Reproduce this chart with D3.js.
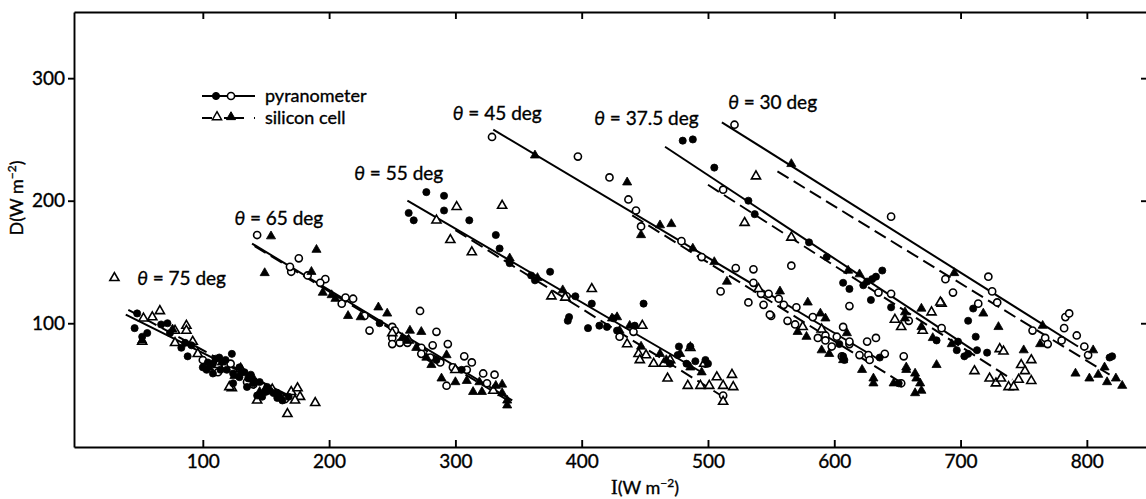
<!DOCTYPE html>
<html>
<head>
<meta charset="utf-8">
<script src="https://cdn.jsdelivr.net/npm/d3@7"></script>
<style>
  body { margin: 0; background: #fff; }
  text { font-family: Lato, "Open Sans", sans-serif; fill: #000; stroke: #000; stroke-width: 0.35; }
</style>
</head>
<body>
<div class="canvas"></div>
<script>
// ---------- data (I and D in W m^-2) ----------
const xTicks = [100, 200, 300, 400, 500, 600, 700, 800];
const yTicks = [100, 200, 300];
const angles = ['75', '65', '55', '45', '37.5', '30'];
// where each angle label sits (data units, left edge / middle of the text)
const labelAnchor = [[48, 137], [125, 186], [220, 222], [298, 271], [410, 267], [516, 280]];

// regression lines: solid = pyranometer, dashed = silicon cell
const pyrLines = [
  [[39, 107], [170, 40]],
  [[139, 165], [345, 37]],
  [[262, 200], [495, 60]],
  [[330, 258], [636, 70]],
  [[466, 244], [713, 76]],
  [[511, 264], [793, 81]]
];
const siLines = [
  [[41, 111], [168, 40]],
  [[141, 163], [340, 38]],
  [[300, 176], [512, 40]],
  [[440, 188], [657, 49]],
  [[500, 213], [741, 54]],
  [[555, 224], [818, 58]]
];

// pyranometer, filled circles
const filledCircles = [
  // 75 deg
  [46, 96], [48, 108], [56, 92], [52, 89], [67, 99], [72, 100], [74, 92], [86, 84], [88, 73], [83, 80],
  [91, 82], [123, 75], [100, 64], [108, 67], [113, 72], [103, 62], [119, 62], [124, 59], [129, 56], [136, 55],
  [140, 51], [145, 52], [151, 48], [153, 45], [143, 41], [147, 40], [159, 39], [163, 37], [156, 43], [135, 48],
  [124, 51], [114, 62], [108, 59], [129, 64], [104, 68], [118, 70], [133, 60], [110, 71], [138, 58], [150, 44],
  [160, 42], [168, 40],
  // 65 deg
  [285, 70], [305, 62], [240, 100],
  // 55 deg
  [277, 207], [291, 204], [291, 192], [263, 190], [267, 184], [311, 184], [332, 172], [335, 161], [343, 149], [360, 139],
  [363, 135], [375, 142], [395, 122], [408, 116], [390, 105], [389, 102], [405, 96], [414, 98], [425, 104], [420, 97],
  [428, 94], [442, 98], [449, 116], [477, 81], [486, 81], [490, 69], [498, 70], [500, 67], [476, 74], [483, 67], [470, 67],
  // 45 deg
  [604, 83], [607, 73], [636, 72], [651, 51], [608, 70],
  // 37.5 deg
  [480, 249], [488, 250], [505, 227], [532, 200], [537, 189], [580, 166], [594, 154], [607, 133], [612, 128], [638, 143],
  [633, 138], [630, 136], [626, 134], [623, 131], [629, 119], [645, 113], [681, 86], [698, 85], [697, 78], [703, 73],
  [706, 75], [713, 78], [721, 76], [706, 102], [712, 89], [710, 112],
  // 30 deg
  [818, 72], [820, 73]
];

// pyranometer, open circles
const openCircles = [
  // 75 deg
  [118, 65], [128, 58], [140, 50], [150, 45], [160, 40], [100, 70], [165, 38], [135, 52], [112, 60], [122, 67],
  // 65 deg
  [143, 172], [176, 153], [170, 142], [169, 146], [183, 139], [197, 136], [193, 133], [210, 116], [219, 120], [213, 121],
  [228, 106], [232, 94], [250, 97], [252, 94], [250, 88], [250, 83], [256, 84], [262, 84], [272, 110], [273, 80],
  [273, 75], [285, 93], [282, 82], [294, 83], [307, 73], [313, 68], [309, 62], [322, 59], [331, 58], [325, 51],
  [293, 49], [298, 64], [288, 68], [280, 72],
  // 55 deg
  [430, 89], [512, 41], [498, 67], [388, 122], [441, 93],
  // 45 deg
  [329, 252], [397, 236], [422, 219], [437, 201], [443, 192], [447, 179], [479, 167], [495, 154], [522, 145], [536, 144],
  [510, 126], [536, 133], [532, 117], [544, 115], [550, 106], [542, 124], [548, 124], [556, 120], [560, 115], [563, 102],
  [570, 113], [583, 105], [587, 88], [593, 90], [607, 97], [602, 89], [612, 83], [549, 107], [569, 99], [593, 86],
  [598, 81], [606, 73], [612, 85], [620, 74], [626, 85], [633, 88], [627, 74], [628, 70], [640, 75], [655, 73], [653, 51],
  // 37.5 deg
  [512, 209], [566, 147], [635, 125], [645, 124], [612, 114], [659, 102], [685, 96], [714, 116],
  // 30 deg
  [521, 262], [645, 187], [688, 136], [694, 125], [722, 138], [725, 126], [729, 117], [757, 94], [767, 88], [769, 83],
  [780, 86], [783, 105], [786, 108], [782, 96], [792, 90], [798, 81], [801, 74]
];

// silicon cell, open triangles
const openTriangles = [
  // 75 deg
  [30, 137], [66, 110], [60, 105], [53, 104], [87, 98], [87, 94], [78, 94], [92, 85], [78, 84], [52, 85],
  [96, 75], [123, 47], [130, 63], [143, 37], [170, 44], [175, 47], [177, 40], [173, 37], [189, 35], [167, 26],
  [121, 48], [112, 66], [155, 46],
  // 65 deg
  [250, 92], [300, 62], [330, 45], [263, 86],
  // 55 deg
  [301, 195], [337, 196], [285, 184], [296, 168], [313, 158], [376, 122], [387, 121], [408, 128], [436, 83], [448, 98],
  [445, 75], [451, 74], [446, 70], [457, 67], [465, 67], [468, 55], [484, 49], [494, 49], [501, 49], [507, 56],
  [512, 49], [519, 58], [520, 48], [512, 36], [486, 80], [497, 67], [470, 70],
  // 45 deg
  [540, 128], [575, 97], [590, 95],
  // 37.5 deg
  [538, 220], [529, 182], [566, 170], [648, 103], [653, 97], [677, 109], [685, 116], [670, 94], [684, 117], [731, 79],
  [734, 77], [711, 61], [723, 55], [728, 51], [732, 55], [738, 48], [742, 48], [746, 54], [748, 66], [751, 61],
  [756, 70], [756, 53]
];

// silicon cell, filled triangles
const filledTriangles = [
  // 75 deg
  [130, 60], [140, 55], [150, 47], [115, 68], [160, 42], [125, 57], [105, 64], [52, 86], [76, 95], [145, 44],
  // 65 deg
  [154, 171], [190, 160], [149, 141], [186, 142], [195, 125], [202, 123], [215, 106], [239, 113], [246, 108], [264, 94],
  [273, 93], [269, 80], [277, 72], [281, 66], [293, 74], [289, 55], [300, 52], [309, 53], [314, 44], [319, 52],
  [332, 49], [337, 50], [337, 43], [341, 37], [341, 33], [321, 44], [205, 120], [225, 105], [258, 88], [262, 86],
  // 55 deg
  [343, 153], [424, 104], [428, 105], [438, 98], [430, 94], [478, 75], [486, 64], [495, 60], [462, 75], [467, 70],
  [447, 81], [365, 137], [385, 127],
  // 45 deg
  [363, 237], [436, 215], [447, 172], [462, 180], [471, 181], [488, 161], [505, 150], [515, 134], [557, 126], [579, 117],
  [589, 108], [593, 104], [571, 93], [578, 89], [590, 78], [596, 75], [610, 92], [607, 70], [622, 62], [631, 55],
  [631, 51], [647, 51], [657, 64], [657, 62], [664, 59], [665, 55], [668, 51], [669, 45], [664, 43],
  // 37.5 deg
  [611, 143], [656, 109], [656, 104], [669, 112], [669, 97], [678, 88], [693, 83], [730, 97], [718, 108], [750, 78],
  [681, 66], [620, 140],
  // 30 deg
  [566, 230], [695, 141], [765, 98], [763, 83], [791, 59], [802, 55], [809, 58], [814, 64], [816, 52], [823, 55],
  [828, 49], [805, 78]
];

// ---------- svg and scales ----------
const width = 1146;
const height = 499;

const svg = d3.select('.canvas')
  .append('svg')
    .attr('width', width)
    .attr('height', height);

const x = d3.scaleLinear()
  .domain([-2, 850])
  .range([74, 1150]);

const y = d3.scaleLinear()
  .domain([-1, 354])
  .range([447, 12]);

// ---------- frame and axes ----------
const axisStyle = g => {
  g.selectAll('path, line').attr('stroke', '#000').attr('stroke-width', 1.9);
  g.selectAll('text').attr('font-size', 19).attr('fill', '#000')
    .attr('font-family', 'Lato, "Open Sans", sans-serif');
};

svg.append('g')
  .attr('transform', `translate(0, ${y(-1)})`)
  .call(d3.axisBottom(x).tickValues(xTicks).tickSize(-7).tickSizeOuter(0).tickPadding(8))
  .call(axisStyle);

svg.append('g')
  .attr('transform', `translate(0, ${y(354)})`)
  .call(d3.axisTop(x).tickValues(xTicks).tickSize(-7).tickSizeOuter(0).tickFormat(''))
  .call(axisStyle);

svg.append('g')
  .attr('transform', `translate(${x(-2)}, 0)`)
  .call(d3.axisLeft(y).tickValues(yTicks).tickSize(6).tickSizeOuter(0).tickPadding(3))
  .call(axisStyle);

svg.append('g')
  .attr('transform', `translate(${x(850) - 2}, 0)`)
  .call(d3.axisRight(y).tickValues(yTicks).tickSize(-7).tickSizeOuter(0).tickFormat(''))
  .call(axisStyle);

// axis titles
svg.append('text')
  .attr('transform', `translate(23, 198) rotate(-90)`)
  .attr('text-anchor', 'middle')
  .attr('font-size', 18)
  .html('D(W m<tspan baseline-shift="super" font-size="12">−2</tspan>)');

svg.append('text')
  .attr('x', 645)
  .attr('y', 494)
  .attr('text-anchor', 'middle')
  .attr('font-size', 18)
  .html('<tspan font-family="Liberation Serif" font-size="20">I</tspan>(W m<tspan baseline-shift="super" font-size="12">−2</tspan>)');

// ---------- regression lines ----------
const graph = svg.append('g');

graph.selectAll('line.pyr')
  .data(pyrLines)
  .enter().append('line')
    .attr('class', 'pyr')
    .attr('x1', d => x(d[0][0])).attr('y1', d => y(d[0][1]))
    .attr('x2', d => x(d[1][0])).attr('y2', d => y(d[1][1]))
    .attr('stroke', '#000')
    .attr('stroke-width', 2);

graph.selectAll('line.si')
  .data(siLines)
  .enter().append('line')
    .attr('class', 'si')
    .attr('x1', d => x(d[0][0])).attr('y1', d => y(d[0][1]))
    .attr('x2', d => x(d[1][0])).attr('y2', d => y(d[1][1]))
    .attr('stroke', '#000')
    .attr('stroke-width', 2)
    .attr('stroke-dasharray', '13,6');

// ---------- point markers ----------
const circle = d3.symbol().type(d3.symbolCircle).size(40);
const triangle = d3.symbol().type(d3.symbolTriangle).size(36);

const drawMarks = (data, shape, filled) => {
  graph.append('g')
    .selectAll('path')
    .data(data)
    .enter().append('path')
      .attr('d', shape)
      .attr('transform', d => `translate(${x(d[0])}, ${y(d[1])})`)
      .attr('fill', filled ? '#000' : '#fff')
      .attr('stroke', '#000')
      .attr('stroke-width', filled ? 0.8 : 1.6);
};

drawMarks(openCircles, circle, false);
drawMarks(openTriangles, triangle, false);
drawMarks(filledCircles, circle, true);
drawMarks(filledTriangles, triangle, true);

// ---------- angle labels ----------
svg.selectAll('text.angle')
  .data(angles)
  .enter().append('text')
    .attr('class', 'angle')
    .attr('x', (d, i) => x(labelAnchor[i][0]))
    .attr('y', (d, i) => y(labelAnchor[i][1]))
    .attr('dy', '0.35em')
    .attr('font-size', 19)
    .html(d => `<tspan font-style="italic">θ</tspan> = ${d} deg`);

// ---------- legend ----------
const legend = svg.append('g').attr('transform', 'translate(202, 96)');

legend.append('line')
  .attr('x1', 0).attr('x2', 53).attr('y1', 0).attr('y2', 0)
  .attr('stroke', '#000').attr('stroke-width', 1.8);
legend.append('path').attr('d', circle).attr('transform', 'translate(14,0)')
  .attr('fill', '#000').attr('stroke', '#000');
legend.append('path').attr('d', circle).attr('transform', 'translate(29,0)')
  .attr('fill', '#fff').attr('stroke', '#000').attr('stroke-width', 1.6);
legend.append('text').attr('x', 63).attr('y', 0).attr('dy', '0.33em')
  .attr('font-size', 18).text('pyranometer');

legend.append('line')
  .attr('x1', 0).attr('x2', 53).attr('y1', 22).attr('y2', 22)
  .attr('stroke', '#000').attr('stroke-width', 1.8)
  .attr('stroke-dasharray', '10,4,4,4,20');
legend.append('path').attr('d', triangle).attr('transform', 'translate(15,21)')
  .attr('fill', '#fff').attr('stroke', '#000').attr('stroke-width', 1.5);
legend.append('path').attr('d', triangle).attr('transform', 'translate(29,21)')
  .attr('fill', '#000').attr('stroke', '#000');
legend.append('text').attr('x', 63).attr('y', 22).attr('dy', '0.33em')
  .attr('font-size', 18).text('silicon cell');
</script>
</body>
</html>
